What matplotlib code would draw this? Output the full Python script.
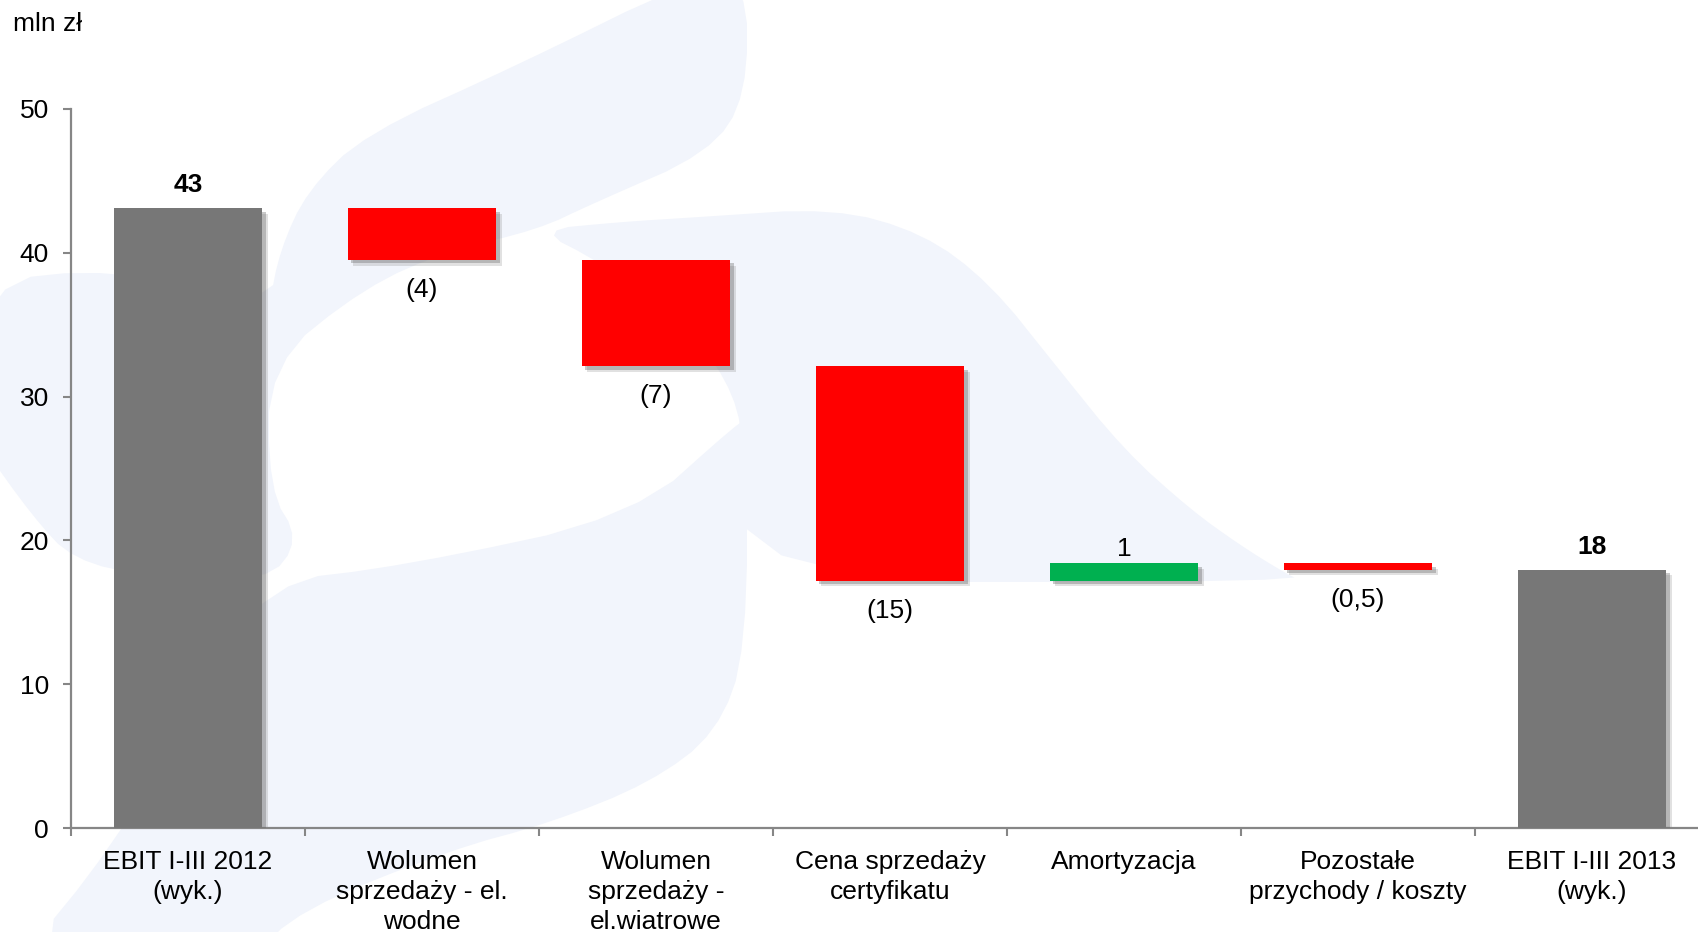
import numpy as np
import matplotlib
matplotlib.use("Agg")
import matplotlib.pyplot as plt
from matplotlib.patches import Polygon
import matplotlib.patheffects as pe

plt.rcParams['font.family'] = ['Liberation Sans', 'DejaVu Sans']

# data (mln zł)
categories = ["EBIT I-III 2012\n(wyk.)", "Wolumen\nsprzedaży - el.\nwodne",
              "Wolumen\nsprzedaży -\nel.wiatrowe", "Cena sprzedaży\ncertyfikatu",
              "Amortyzacja", "Pozostałe\nprzychody / koszty", "EBIT I-III 2013\n(wyk.)"]
start_value = 43.1
deltas = [-3.6, -7.4, -14.9, 1.2, -0.45]
value_labels = ["43", "(4)", "(7)", "(15)", "1", "(0,5)", "18"]

GREY = '#777777'
RED = '#ff0000'
GREEN = '#00b050'
WM = '#f2f5fc'
AX = '#868686'
FS = 19

W, H = 1698, 932
fig = plt.figure(figsize=(W / 100, H / 100), dpi=100)


# faint logo watermark in the background (figure pixel coords, y from top)
def smooth(pts, n=2):
    # chaikin corner cutting to round the outline
    p = np.array(pts, dtype=float)
    for _ in range(n):
        q = np.roll(p, -1, axis=0)
        a = 0.75 * p + 0.25 * q
        b = 0.25 * p + 0.75 * q
        p = np.stack([a, b], axis=1).reshape(-1, 2)
    return [(x / W, 1 - y / H) for x, y in p]


shapes = [
    # upper band sweeping down to the left
    [(690, -20), (747, -20), (747, 96), (709, 153), (594, 203), (537, 230), (450, 250),
     (365, 287), (269, 364), (269, 490), (300, 540), (267, 582), (150, 577), (73, 560),
     (33, 517), (-20, 443), (-20, 282), (115, 268), (269, 306), (280, 250), (307, 191),
     (365, 134), (518, 65)],
    # lower band
    [(20, 960), (110, 850), (200, 700), (267, 582), (403, 566), (633, 517), (740, 421),
     (747, 421), (747, 650), (717, 733), (650, 783), (550, 823), (450, 850), (300, 910),
     (250, 960)],
    # arc on the right
    [(537, 230), (620, 222), (700, 217), (834, 208), (923, 233), (990, 283), (1057, 367),
     (1124, 450), (1191, 510), (1240, 545), (1280, 570), (1303, 582), (747, 582),
     (745, 440), (728, 380), (680, 320), (600, 262)],
]
for s in shapes:
    fig.add_artist(Polygon(smooth(s), closed=True, facecolor=WM, edgecolor='none',
                           transform=fig.transFigure, zorder=0))

ax = fig.add_axes([71 / W, (H - 828) / H, (W - 71) / W, (828 - 109) / H])
ax.set_facecolor('none')

# waterfall geometry
levels = np.concatenate([[start_value], start_value + np.cumsum(deltas)])
end_value = levels[-1]
bottoms = [0]
heights = [start_value]
colors = [GREY]
for i, d in enumerate(deltas):
    bottoms.append(min(levels[i], levels[i + 1]))
    heights.append(abs(d))
    colors.append(GREEN if d > 0 else RED)
bottoms.append(0)
heights.append(end_value)
colors.append(GREY)

x = np.arange(len(categories))
bars = ax.bar(x, heights, bottom=bottoms, width=0.635, color=colors, zorder=3)
shadow = [pe.SimplePatchShadow(offset=(4, -4), shadow_rgbFace='#888888', alpha=0.25),
          pe.SimplePatchShadow(offset=(2.5, -2.5), shadow_rgbFace='#666666', alpha=0.35),
          pe.Normal()]
for b in bars:
    b.set_path_effects(shadow)

# value labels
for i, lab in enumerate(value_labels):
    top = bottoms[i] + heights[i]
    if i == 0 or i == len(categories) - 1:
        ax.annotate(lab, (x[i], top), xytext=(0, 8), textcoords='offset points',
                    ha='center', va='bottom', fontsize=FS, fontweight='bold')
    elif deltas[i - 1] > 0:
        ax.annotate(lab, (x[i], top), xytext=(0, 2), textcoords='offset points',
                    ha='center', va='bottom', fontsize=FS)
    else:
        ax.annotate(lab, (x[i], bottoms[i]), xytext=(0, -13), textcoords='offset points',
                    ha='center', va='top', fontsize=FS)

ax.set_xlim(-0.5, -0.5 + (W - 71) / 234)
ax.set_ylim(0, 50)
ax.set_yticks([0, 10, 20, 30, 40, 50])
ax.set_xticks(x)
ax.set_xticklabels(categories, fontsize=FS, linespacing=1.3)
ax.set_xticks(np.arange(len(categories)) - 0.5, minor=True)
ax.tick_params(axis='x', which='major', length=0, pad=16)
ax.tick_params(axis='x', which='minor', length=6, width=1.5, color=AX, direction='out')
ax.tick_params(axis='y', length=6, width=1.5, color=AX, labelsize=FS, pad=10)

for s in ['top', 'right']:
    ax.spines[s].set_visible(False)
for s in ['left', 'bottom']:
    ax.spines[s].set_color(AX)
    ax.spines[s].set_linewidth(1.6)

fig.text(13 / W, 1 - 24 / H, "mln zł", fontsize=FS, ha='left', va='center')

fig.savefig("out.png", dpi=100)
